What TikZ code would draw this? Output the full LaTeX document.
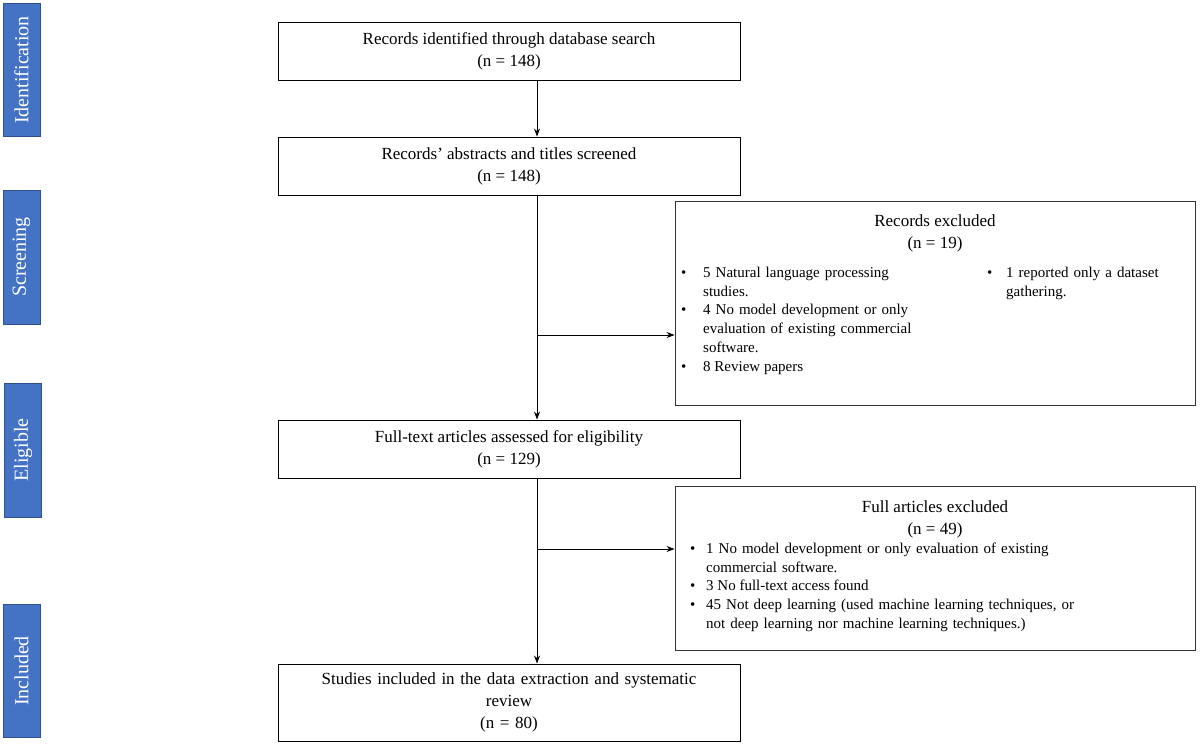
\documentclass[tikz,border=0pt]{standalone}
\usepackage{fontspec}
\setmainfont{Liberation Serif}
\usetikzlibrary{arrows.meta}
\begin{document}
\begin{tikzpicture}[x=1pt,y=-1pt,
  phase/.style={draw={rgb,255:red,47;green,82;blue,143},fill={rgb,255:red,68;green,114;blue,196},line width=1pt,text=white,font=\fontsize{20}{22}\selectfont},
  mainbox/.style={draw=black,line width=0.9pt,align=center,font=\fontsize{17}{22}\selectfont},
  exbox/.style={draw=black!80,line width=0.9pt},
  bul/.style={anchor=north west,inner sep=0pt,font=\fontsize{15}{18.8}\selectfont,align=left},
  arr/.style={-{Stealth[length=8pt,width=6pt]},line width=0.8pt}]
\useasboundingbox (0,0) rectangle (1200,747);
% phase labels
\node[phase,minimum width=37pt,minimum height=133pt,inner sep=0pt] (pid) at (21.5,70) {\rotatebox{90}{Identification}};
\node[phase,minimum width=37pt,minimum height=134pt,inner sep=0pt] (psc) at (21.5,257) {\rotatebox{90}{Screening}};
\node[phase,minimum width=37pt,minimum height=134pt,inner sep=0pt] (pel) at (23,450) {\rotatebox{90}{Eligible}};
\node[phase,minimum width=37pt,minimum height=133pt,inner sep=0pt] (pin) at (21.5,671) {\rotatebox{90}{Included}};
% main boxes
\node[mainbox,minimum width=462pt,minimum height=58pt] (b1) at (509,51) {Records identified through database search\\(n = 148)};
\node[mainbox,minimum width=462pt,minimum height=58pt] (b2) at (509,166) {Records’ abstracts and titles screened\\(n = 148)};
\node[mainbox,minimum width=462pt,minimum height=58pt] (b3) at (509,449) {Full-text articles assessed for eligibility\\(n = 129)};
\node[mainbox,minimum width=462pt,minimum height=77pt,text width=440pt] (b4) at (509,702.5) {Studies included in the data extraction and systematic\\review\\(n = 80)};
% excluded boxes
\node[exbox,minimum width=520pt,minimum height=204pt] (e1) at (935,303) {};
\node[exbox,minimum width=520pt,minimum height=164pt] (e2) at (935,568) {};
\node[align=center,font=\fontsize{17}{22}\selectfont,inner sep=0pt] (e1t) at (935,233) {Records excluded\\(n = 19)};
\node[align=center,font=\fontsize{17}{22}\selectfont,inner sep=0pt] (e2t) at (935,519) {Full articles excluded\\(n = 49)};
% bullets box 1
\node[bul] (r1b) at (681,264) {\strut•};
\node[bul,text width=250pt] (r1) at (703,264) {\strut 5 Natural language processing\\studies.};
\node[bul] (r2b) at (681,301.5) {\strut•};
\node[bul,text width=250pt] (r2) at (703,301.5) {\strut 4 No model development or only\\evaluation of existing commercial\\software.};
\node[bul] (r3b) at (681,358) {\strut•};
\node[bul] (r3) at (703,358) {\strut 8 Review papers};
\node[bul] (r4b) at (987,264) {\strut•};
\node[bul,text width=190pt] (r4) at (1006,264) {\strut 1 reported only a dataset\\gathering.};
% bullets box 2
\node[bul] (f1b) at (690,540) {\strut•};
\node[bul,text width=485pt] (f1) at (706,540) {\strut 1 No model development or only evaluation of existing\\commercial software.};
\node[bul] (f2b) at (690,577.5) {\strut•};
\node[bul] (f2) at (706,577.5) {\strut 3 No full-text access found};
\node[bul] (f3b) at (690,596.5) {\strut•};
\node[bul,text width=485pt] (f3) at (706,596.5) {\strut 45 Not deep learning (used machine learning techniques, or\\not deep learning nor machine learning techniques.)};
% arrows
\coordinate (j1) at (537,335);
\coordinate (j2) at (537,549);
\draw[arr] (b1.south -| 537,0) -- (b2.north -| 537,0);
\draw[arr] (b2.south -| 537,0) -- (b3.north -| 537,0);
\draw[arr] (b3.south -| 537,0) -- (b4.north -| 537,0);
\draw[arr] (j1) -- (j1 -| e1.west);
\draw[arr] (j2) -- (j2 -| e2.west);
\end{tikzpicture}
\end{document}
